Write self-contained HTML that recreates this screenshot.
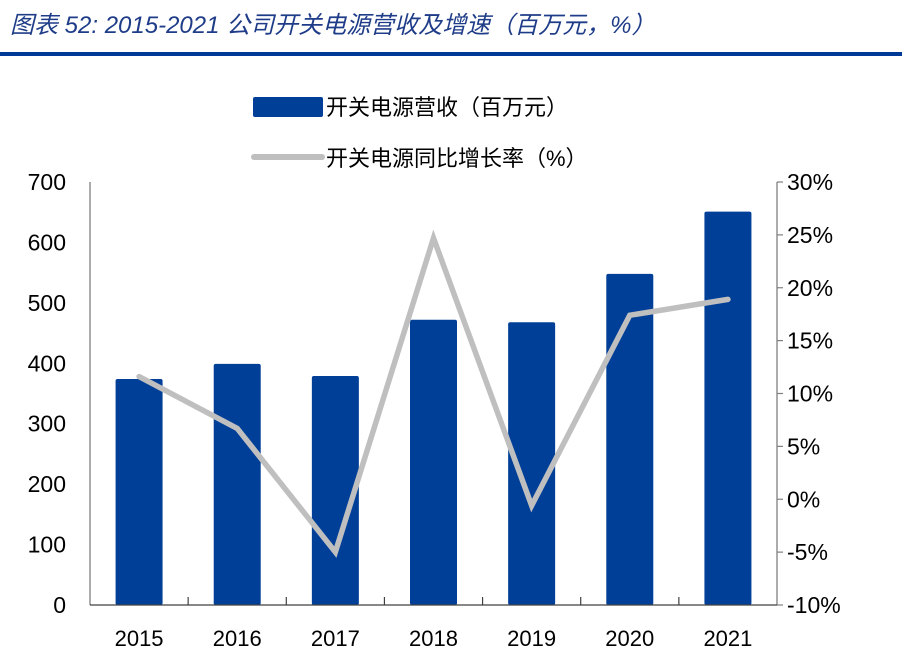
<!DOCTYPE html>
<html><head><meta charset="utf-8"><style>
body{margin:0;background:#fff;width:902px;height:653px;overflow:hidden}
svg text{font-family:"Liberation Sans","Noto Sans CJK SC",sans-serif}
</style></head><body>
<svg width="902" height="653">
<text x="10" y="33" font-size="24" font-style="italic" fill="#1f3c88">图表 52:  2015-2021 公司开关电源营收及增速（百万元，%）</text>
<rect x="0" y="52" width="902" height="4" fill="#003a96"/>
<rect x="253" y="97" width="70" height="20" rx="2" fill="#003f98"/>
<text x="326" y="115" font-size="22" fill="#000">开关电源营收（百万元）</text>
<line x1="254" y1="157" x2="322" y2="157" stroke="#bfbfbf" stroke-width="6" stroke-linecap="round"/>
<text x="326" y="166" font-size="22" fill="#000">开关电源同比增长率（%）</text>
<g id="plot"></g>
</svg>
<script>
const categories=["2015","2016","2017","2018","2019","2020","2021"];
const revenue=[374,399,379,472,468,548,651];
const growth=[11.6,6.7,-5.0,24.7,-0.6,17.4,18.9];
const leftTicks=[0,100,200,300,400,500,600,700];
const rightTicks=[-10,-5,0,5,10,15,20,25,30];
const NS="http://www.w3.org/2000/svg";
const g=document.getElementById('plot');
const X0=90,X1=777,Y0=605,Y1=182;
const band=(X1-X0)/categories.length;
const xc=i=>X0+band*(i+0.5);
const yL=v=>Y0-(v-0)/(700-0)*(Y0-Y1);
const yR=v=>Y0-(v+10)/40*(Y0-Y1);
function mk(t,a){const e=document.createElementNS(NS,t);for(const k in a)e.setAttribute(k,a[k]);g.appendChild(e);return e;}
revenue.forEach((v,i)=>{const r=mk('rect',{x:xc(i)-23.5,y:yL(v),width:47,height:Y0-yL(v),rx:2,fill:'#003f98'});

});
let a=mk('line',{x1:X0,y1:Y1,x2:X0,y2:Y0,stroke:'#7f7f7f','stroke-width':1.3});


a=mk('line',{x1:X1,y1:Y1,x2:X1,y2:Y0,stroke:'#7f7f7f','stroke-width':1.3});


a=mk('line',{x1:X0,y1:Y0,x2:X1,y2:Y0,stroke:'#404040','stroke-width':1.3});


for(let i=1;i<categories.length;i++){const t=mk('line',{x1:X0+band*i,y1:Y0,x2:X0+band*i,y2:Y0-8,stroke:'#404040','stroke-width':1.2});

}
rightTicks.forEach(v=>{const t=mk('line',{x1:X1,y1:yR(v),x2:X1+6,y2:yR(v),stroke:'#7f7f7f','stroke-width':1.2});


const l=mk('text',{x:X1+10,y:yR(v)+8,'font-size':23,fill:'#000'});l.textContent=v+'%';

});
leftTicks.forEach(v=>{const l=mk('text',{x:66,y:yL(v)+8,'font-size':23,'text-anchor':'end',fill:'#000'});l.textContent=v;

});
categories.forEach((c,i)=>{const l=mk('text',{x:xc(i),y:646,'font-size':22,'text-anchor':'middle',fill:'#000'});l.textContent=c;

});
const p=mk('polyline',{points:growth.map((v,i)=>xc(i)+','+yR(v)).join(' '),fill:'none',stroke:'#bfbfbf','stroke-width':5.5,'stroke-linejoin':'miter','stroke-linecap':'round'});


</script>
</body></html>
